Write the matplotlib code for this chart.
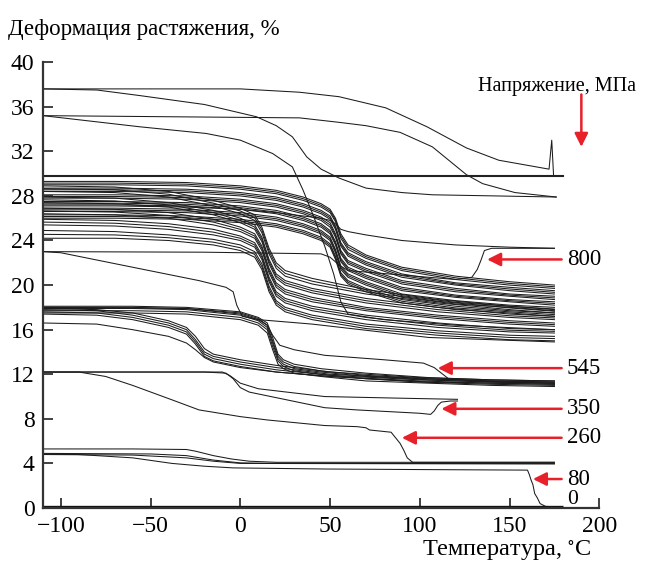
import matplotlib
matplotlib.use("Agg")
import matplotlib.pyplot as plt

plt.rcParams['font.family'] = 'serif'
plt.rcParams['font.serif'] = ['Liberation Serif', 'DejaVu Serif']
plt.rcParams['mathtext.fontset'] = 'stix'

# ---- values: temperature (C) knots, strain (%) ----

# upper bundle, curves with the late step (~55 C)
late_T = [-110, -70, -30, 0, 20, 35, 45, 50, 53, 56, 60, 70, 90, 120, 150, 175]
late_S = [
    [29.3, 29.3, 29.2, 28.9, 28.5, 27.9, 27.3, 26.8, 26.0, 24.6, 23.6, 22.7, 21.6, 20.8, 20.3, 20.0],
    [29.15, 29.15, 29.05, 28.75, 28.35, 27.75, 27.15, 26.65, 25.85, 24.4, 23.4, 22.55, 21.45, 20.65, 20.15, 19.85],
    [29.0, 29.0, 28.9, 28.6, 28.2, 27.6, 27.0, 26.5, 25.7, 24.2, 23.2, 22.4, 21.3, 20.5, 20.0, 19.7],
    [28.7, 28.7, 28.6, 28.3, 27.9, 27.3, 26.7, 26.2, 25.3, 23.8, 22.9, 22.1, 21.0, 20.2, 19.8, 19.5],
    [28.55, 28.55, 28.45, 28.15, 27.75, 27.15, 26.55, 26.05, 25.15, 23.65, 22.75, 21.95, 20.85, 20.1, 19.65, 19.35],
    [28.4, 28.4, 28.3, 28.0, 27.6, 27.0, 26.4, 25.9, 25.0, 23.5, 22.6, 21.8, 20.7, 20.0, 19.5, 19.2],
    [28.1, 28.1, 28.0, 27.7, 27.3, 26.7, 26.1, 25.6, 24.6, 23.1, 22.2, 21.5, 20.4, 19.7, 19.2, 19.0],
    [27.95, 27.95, 27.85, 27.55, 27.15, 26.55, 25.95, 25.4, 24.45, 22.95, 22.05, 21.35, 20.25, 19.55, 19.1, 18.85],
    [27.8, 27.8, 27.7, 27.4, 27.0, 26.4, 25.8, 25.2, 24.3, 22.8, 21.9, 21.2, 20.1, 19.4, 19.0, 18.7],
    [27.5, 27.5, 27.4, 27.1, 26.7, 26.1, 25.5, 24.9, 23.9, 22.4, 21.6, 20.9, 19.8, 19.1, 18.7, 18.5],
    [27.35, 27.35, 27.25, 26.95, 26.55, 25.95, 25.35, 24.75, 23.75, 22.25, 21.45, 20.75, 19.65, 19.0, 18.6, 18.35],
    [27.2, 27.2, 27.1, 26.8, 26.4, 25.8, 25.2, 24.6, 23.6, 22.1, 21.3, 20.6, 19.5, 18.9, 18.5, 18.2],
    [26.9, 26.9, 26.8, 26.5, 26.1, 25.5, 24.9, 24.3, 23.2, 21.7, 21.0, 20.3, 19.2, 18.6, 18.2, 18.0],
    [26.75, 26.75, 26.65, 26.35, 25.95, 25.35, 24.75, 24.15, 23.05, 21.55, 20.85, 20.15, 19.05, 18.45, 18.1, 17.85],
    [26.6, 26.6, 26.5, 26.2, 25.8, 25.2, 24.6, 24.0, 22.9, 21.4, 20.7, 20.0, 18.9, 18.3, 18.0, 17.7],
    [26.3, 26.3, 26.2, 25.9, 25.5, 24.9, 24.3, 23.7, 22.6, 21.1, 20.4, 19.7, 18.7, 18.1, 17.7, 17.5],
    [26.15, 26.15, 26.05, 25.75, 25.35, 24.75, 24.15, 23.55, 22.45, 20.95, 20.25, 19.55, 18.55, 17.95, 17.6, 17.35],
    [26.0, 26.0, 25.9, 25.6, 25.2, 24.6, 24.0, 23.4, 22.3, 20.8, 20.1, 19.4, 18.4, 17.8, 17.5, 17.2],
    [27.1, 27.1, 27.0, 26.8, 26.5, 26.2, 26.0, 25.8, 25.5, 25.0, 24.8, 24.5, 24.0, 23.6, 23.4, 23.3],
]

# upper bundle, curves with the early step (~15 C)
early_T = [-110, -70, -40, -15, 0, 8, 12, 16, 20, 25, 40, 70, 110, 150, 175]
early_S = [
    [28.9, 28.8, 28.4, 27.6, 26.9, 26.3, 25.2, 23.3, 22.0, 21.3, 20.6, 19.6, 18.7, 18.1, 17.8],
    [28.65, 28.55, 28.15, 27.35, 26.65, 26.05, 24.95, 23.05, 21.75, 21.05, 20.35, 19.4, 18.55, 17.95, 17.65],
    [28.4, 28.3, 27.9, 27.1, 26.4, 25.8, 24.7, 22.8, 21.5, 20.8, 20.1, 19.2, 18.4, 17.8, 17.5],
    [27.9, 27.8, 27.4, 26.7, 26.0, 25.4, 24.3, 22.3, 21.0, 20.4, 19.7, 18.8, 18.0, 17.4, 17.2],
    [27.65, 27.55, 27.2, 26.5, 25.8, 25.2, 24.1, 22.1, 20.8, 20.2, 19.5, 18.6, 17.8, 17.25, 17.05],
    [27.4, 27.3, 27.0, 26.3, 25.6, 25.0, 23.9, 21.9, 20.6, 20.0, 19.3, 18.4, 17.6, 17.1, 16.9],
    [26.9, 26.8, 26.5, 25.9, 25.2, 24.6, 23.5, 21.5, 20.2, 19.6, 18.9, 18.0, 17.3, 16.8, 16.6],
    [26.65, 26.55, 26.25, 25.65, 25.0, 24.4, 23.3, 21.3, 20.0, 19.4, 18.7, 17.85, 17.15, 16.65, 16.45],
    [26.4, 26.3, 26.0, 25.4, 24.8, 24.2, 23.1, 21.1, 19.8, 19.2, 18.5, 17.7, 17.0, 16.5, 16.3],
    [25.9, 25.8, 25.5, 25.0, 24.4, 23.8, 22.7, 20.7, 19.4, 18.8, 18.1, 17.3, 16.6, 16.1, 16.0],
    [25.65, 25.55, 25.25, 24.75, 24.2, 23.6, 22.5, 20.5, 19.2, 18.6, 17.9, 17.1, 16.4, 15.95, 15.85],
    [25.4, 25.3, 25.0, 24.5, 24.0, 23.4, 22.3, 20.3, 19.0, 18.4, 17.7, 16.9, 16.2, 15.8, 15.7],
    [24.9, 24.8, 24.5, 24.1, 23.6, 23.0, 21.9, 19.9, 18.6, 18.0, 17.3, 16.5, 15.9, 15.5, 15.4],
    [24.55, 24.5, 24.25, 23.85, 23.35, 22.75, 21.65, 19.65, 18.4, 17.8, 17.1, 16.3, 15.7, 15.3, 15.2],
    [24.2, 24.2, 24.0, 23.6, 23.1, 22.5, 21.4, 19.4, 18.2, 17.6, 16.9, 16.1, 15.5, 15.1, 15.0],
]

# ~18 % bundle, step near -25 C
mid_early_T = [-110, -80, -60, -40, -30, -25, -20, -15, 0, 20, 50, 100, 140, 175]
mid_early_S = [
    [17.9, 17.8, 17.5, 16.8, 16.2, 15.4, 14.3, 13.8, 13.3, 12.8, 12.2, 11.7, 11.5, 11.4],
    [17.8, 17.7, 17.3, 16.6, 16.0, 15.1, 14.0, 13.6, 13.1, 12.6, 12.0, 11.6, 11.4, 11.3],
    [17.6, 17.5, 17.1, 16.4, 15.8, 14.9, 13.8, 13.4, 12.9, 12.4, 11.9, 11.5, 11.3, 11.2],
    [17.4, 17.3, 16.9, 16.2, 15.6, 14.7, 13.6, 13.2, 12.7, 12.2, 11.8, 11.4, 11.2, 11.1],
    [16.6, 16.5, 16.0, 15.4, 14.8, 14.2, 13.5, 13.1, 12.6, 12.2, 11.8, 11.3, 11.1, 11.0],
]

# ~18 % bundle, step near 20 C
mid_late_T = [-110, -60, -30, 0, 10, 15, 18, 21, 24, 30, 45, 70, 105, 140, 175]
mid_late_S = [
    [18.1, 18.1, 18.0, 17.6, 17.1, 16.6, 15.3, 13.8, 13.3, 12.9, 12.5, 12.1, 11.7, 11.5, 11.4],
    [18.0, 18.0, 17.9, 17.4, 16.9, 16.4, 15.0, 13.6, 13.1, 12.7, 12.3, 11.9, 11.6, 11.4, 11.3],
    [17.9, 17.9, 17.8, 17.3, 16.8, 16.2, 14.8, 13.4, 12.9, 12.5, 12.2, 11.8, 11.5, 11.3, 11.2],
    [17.7, 17.7, 17.6, 17.1, 16.6, 16.0, 14.5, 13.2, 12.7, 12.3, 12.0, 11.6, 11.3, 11.2, 11.1],
    [17.5, 17.5, 17.4, 16.9, 16.4, 15.7, 14.2, 12.9, 12.5, 12.1, 11.8, 11.4, 11.2, 11.0, 10.9],
]

# single curves (T list, S list)
top_flat_T = [-110, 0, 33, 55, 81, 104, 126, 144, 172, 173.5, 174.5]
top_flat_S = [37.6, 37.6, 37.3, 36.9, 35.9, 34.2, 32.3, 31.2, 30.4, 33.0, 29.9]

top_fall_T = [-110, -80, -56, -20, 9, 20, 29, 37, 45, 55, 70, 90, 107, 176]
top_fall_S = [37.6, 37.5, 37.0, 36.2, 35.1, 34.3, 33.3, 31.5, 30.4, 29.6, 28.7, 28.3, 28.1, 27.9]

c35_flat_T = [-110, 33, 55, 70, 89, 107, 126, 135, 153, 176]
c35_flat_S = [35.2, 35.0, 34.6, 34.3, 33.7, 32.4, 29.9, 29.1, 28.3, 27.9]

c35_fall_T = [-110, -56, -19, 0, 18, 29, 35, 41, 47, 52, 56, 60, 80, 120, 175]
c35_fall_S = [35.2, 34.2, 33.6, 33.0, 31.8, 30.6, 28.5, 26.1, 23.5, 21.0, 18.5, 17.4, 16.9, 16.4, 16.0]

plateau_T = [-110, 180]
plateau_S = [29.8, 29.8]

low23_T = [-110, -100, -60, -23, -8, -4, -2, 1, 10, 40, 105, 175]
low23_S = [23.0, 22.9, 21.6, 20.4, 19.8, 19.4, 18.2, 17.2, 16.9, 16.5, 15.3, 14.9]

s800_T = [-110, -20, 45, 50, 55, 60, 90, 120, 129, 132, 134, 136, 140, 175]
s800_S = [23.0, 22.95, 22.8, 22.5, 21.8, 21.3, 20.9, 20.5, 20.7, 21.4, 22.2, 23.1, 23.3, 23.3]

s545_T = [-110, -30, 0, 10, 15, 18, 22, 30, 47, 80, 102, 108, 112, 116, 130, 175]
s545_S = [18.0, 17.9, 17.5, 17.0, 16.4, 15.5, 14.6, 14.2, 13.7, 13.3, 13.0, 12.6, 12.1, 11.6, 11.4, 11.2]

s350_T = [-110, -20, -8, -4, 0, 5, 20, 47, 65, 100, 106, 108, 110, 112, 117, 121]
s350_S = [12.2, 12.2, 12.1, 11.6, 10.8, 10.4, 9.9, 9.0, 8.8, 8.5, 8.4, 8.7, 9.2, 9.5, 9.6, 9.6]

c12_T = [-110, -10, -6, 0, 10, 47, 90, 121]
c12_S = [12.2, 12.2, 11.9, 11.2, 10.7, 10.0, 9.85, 9.75]

s260_T = [-110, -90, -75, -60, -38, -23, 0, 15, 47, 65, 70, 72, 84, 87, 89, 91, 93, 96, 175]
s260_S = [12.2, 12.2, 11.8, 11.0, 9.7, 8.8, 8.2, 7.9, 7.4, 7.3, 7.2, 7.0, 6.8, 6.2, 5.8, 5.2, 4.5, 4.1, 4.1]

low5_T = [-110, -60, -30, -25, -15, -5, 5, 20, 175]
low5_S = [5.3, 5.3, 5.25, 5.1, 4.7, 4.4, 4.2, 4.1, 4.1]

low49_T = [-110, -50, -30, -15, 0, 20, 175]
low49_S = [4.9, 4.85, 4.7, 4.3, 4.05, 4.0, 4.0]

low48_T = [-110, -60, -30, -15, 0, 175]
low48_S = [4.8, 4.75, 4.5, 4.2, 4.0, 3.95]

s80_T = [-110, -90, -60, -38, -20, -4, 47, 100, 160, 161, 162, 163, 164, 165.5, 167, 170, 175]
s80_S = [4.85, 4.8, 4.5, 4.0, 3.75, 3.6, 3.5, 3.45, 3.4, 3.0, 2.5, 2.1, 1.3, 0.9, 0.4, 0.15, 0.1]

zero_T = [-110, 180]
zero_S = [0.12, 0.12]

# stress labels with the red arrows (arrow head temperature, strain level)
stress_labels = ["800", "545", "350", "260", "80", "0"]
arrow_head_T = [137.5, 110, 112, 90, 163, None]
arrow_S = [22.3, 12.55, 8.9, 6.3, 2.6, 0.75]

# ---- plot ----
fig = plt.figure(figsize=(6.5, 5.68), dpi=100)
ax = fig.add_axes([0.066, 0.1056, 0.856, 0.785])

lc = "#1c1c1c"
lw = 0.75
for s in late_S:
    ax.plot(late_T, s, color=lc, lw=lw)
for s in early_S:
    ax.plot(early_T, s, color=lc, lw=lw)
for s in mid_early_S:
    ax.plot(mid_early_T, s, color=lc, lw=lw)
for s in mid_late_S:
    ax.plot(mid_late_T, s, color=lc, lw=lw)

singles = [(top_flat_T, top_flat_S), (top_fall_T, top_fall_S),
           (c35_flat_T, c35_flat_S), (c35_fall_T, c35_fall_S),
           (low23_T, low23_S), (s800_T, s800_S), (s545_T, s545_S),
           (s350_T, s350_S), (c12_T, c12_S), (s260_T, s260_S),
           (low5_T, low5_S), (low49_T, low49_S), (low48_T, low48_S),
           (s80_T, s80_S)]
for t, s in singles:
    ax.plot(t, s, color=lc, lw=lw)
ax.plot(plateau_T, plateau_S, color="#222222", lw=1.5)
ax.plot(zero_T, zero_S, color="#111111", lw=2.4, solid_capstyle="butt")

ax.set_xlim(-110, 200)
ax.set_ylim(0, 40)
ax.set_xticks(range(-100, 201, 50))
ax.set_yticks(range(0, 41, 4))
for side in ("top", "right"):
    ax.spines[side].set_visible(False)
for side in ("left", "bottom"):
    ax.spines[side].set_linewidth(1.6)
    ax.spines[side].set_color("#333333")
ax.tick_params(direction="in", length=7, width=1.3, color="#333333",
               labelsize=17, pad=6)

# red arrows and stress values
red = "#e8202a"
tail_T = 179
for lab, ht, sy in zip(stress_labels, arrow_head_T, arrow_S):
    if ht is not None:
        ax.annotate("", xy=(ht, sy), xytext=(tail_T, sy),
                    arrowprops=dict(arrowstyle="-|>", color=red, lw=1.8,
                                    mutation_scale=20, shrinkA=0, shrinkB=0))
    ax.text(tail_T + 3, sy, lab, fontsize=16.5 if lab != "0" else 15.5,
            ha="left", va="center", clip_on=False)

ax.annotate("", xy=(190, 32.4), xytext=(190, 37.1),
            arrowprops=dict(arrowstyle="-|>", color=red, lw=1.8,
                            mutation_scale=20, shrinkA=0, shrinkB=0),
            annotation_clip=False)
ax.text(176.5, 37.8, "Напряжение, МПа", fontsize=14.5, ha="center",
        va="center", clip_on=False)

fig.text(0.012, 1 - 30 / 568, "Деформация растяжения, %", fontsize=16.5,
         ha="left", va="center")
fig.text(592 / 650, 1 - 551 / 568, "Температура, $^{\\circ}$C", fontsize=17.5,
         ha="right", va="center")

fig.savefig("out.png", dpi=100)
